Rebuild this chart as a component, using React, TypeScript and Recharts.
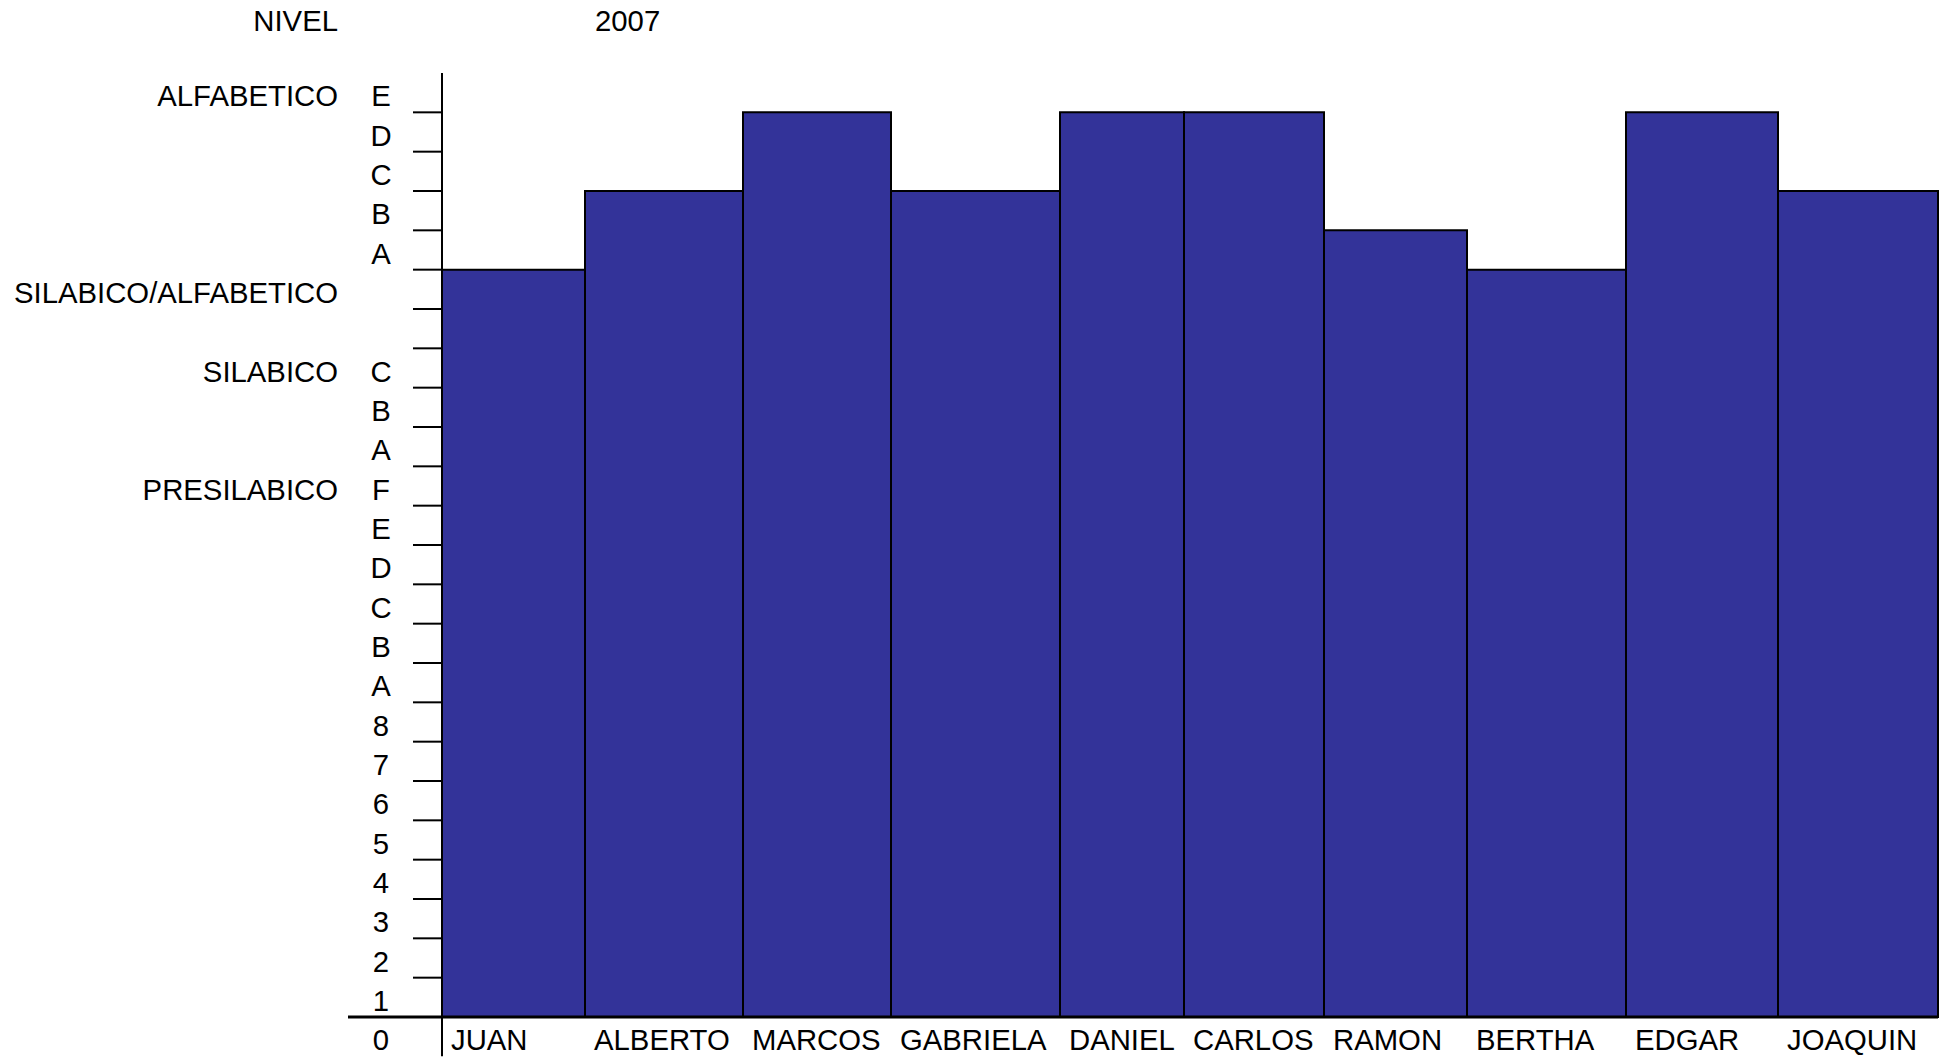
import React from 'react';
import { ComposedChart, XAxis, YAxis, ReferenceArea, ReferenceLine } from 'recharts';

// alumnos y nivel alcanzado (escala 0..24)
const nombres = ['JUAN', 'ALBERTO', 'MARCOS', 'GABRIELA', 'DANIEL', 'CARLOS', 'RAMON', 'BERTHA', 'EDGAR', 'JOAQUIN'];
const niveles = [19, 21, 23, 21, 23, 23, 20, 19, 23, 21];
const anchos = [143, 158, 148, 169, 124, 140, 143, 159, 152, 160];

// etiquetas del eje vertical, una por cada escalon (empezando en -0.5)
const letrasNivel = ['0', '1', '2', '3', '4', '5', '6', '7', '8', 'A', 'B', 'C', 'D', 'E', 'F', 'A', 'B', 'C', '', '', 'A', 'B', 'C', 'D', 'E'];
const etapas = ['PRESILABICO', 'SILABICO', 'SILABICO/ALFABETICO', 'ALFABETICO'];
const etapaPos = [13.5, 16.5, 18.5, 23.5];
const marcas = Array.from({ length: 23 }, (_, i) => i + 1);

const FONT = '"Liberation Sans", Arial, sans-serif';
const FS = 29.3;
const FILL = '#333399';

const inicios: number[] = [];
anchos.reduce((acc, w) => { inicios.push(acc); return acc + w; }, 0);
const total = anchos.reduce((a, b) => a + b, 0);
const ticksY = letrasNivel.map((_, i) => i - 0.5);
const datos = nombres.map((n, i) => ({ nombre: n, x: inicios[i], nivel: niveles[i] }));

const YTick = (props: any) => {
  const { y, payload, index } = props;
  const etapaIdx = etapaPos.indexOf(payload.value);
  return (
    <g>
      <text x={381} y={y + 3} dy="0.36em" textAnchor="middle" fontSize={FS} fontFamily={FONT} fill="#000">
        {letrasNivel[index]}
      </text>
      {etapaIdx >= 0 && (
        <text x={338} y={y + 3} dy="0.36em" textAnchor="end" fontSize={FS} fontFamily={FONT} fill="#000">
          {etapas[etapaIdx]}
        </text>
      )}
    </g>
  );
};

const XTick = (props: any) => {
  const { x, index } = props;
  return (
    <text x={x + 9} y={1050} textAnchor="start" fontSize={FS} fontFamily={FONT} fill="#000">
      {nombres[index]}
    </text>
  );
};

export default function App() {
  return (
    <div style={{ position: 'absolute', left: 0, top: 0, width: 1948, height: 1061, background: '#fff', fontFamily: FONT }}>
      <div style={{ position: 'absolute', right: 1948 - 338, top: 4, fontSize: FS }}>NIVEL</div>
      <div style={{ position: 'absolute', left: 595, top: 4, fontSize: FS }}>2007</div>
      <ComposedChart width={1948} height={1061} data={datos} margin={{ top: 73, right: 10, bottom: 0, left: 0 }}>
        <XAxis
          type="number"
          dataKey="x"
          domain={[0, total]}
          ticks={inicios}
          interval={0}
          height={44}
          axisLine={false}
          tickLine={false}
          tickSize={0}
          tickMargin={0}
          tick={<XTick />}
        />
        <YAxis
          type="number"
          dataKey="nivel"
          domain={[0, 24]}
          ticks={ticksY}
          interval={0}
          width={442}
          axisLine={false}
          tickLine={false}
          tickSize={0}
          tickMargin={0}
          tick={<YTick />}
          allowDataOverflow
        />
        {datos.map((d, i) => (
          <ReferenceArea
            key={d.nombre}
            x1={d.x}
            x2={d.x + anchos[i]}
            y1={0}
            y2={d.nivel}
            fill={FILL}
            fillOpacity={1}
            stroke="#000"
            strokeWidth={2}
            ifOverflow="visible"
          />
        ))}
        {marcas.map((m) => (
          <ReferenceLine key={m} segment={[{ x: -29, y: m }, { x: 0, y: m }]} stroke="#000" strokeWidth={2} ifOverflow="visible" />
        ))}
        <ReferenceLine segment={[{ x: -94, y: 0 }, { x: total, y: 0 }]} stroke="#000" strokeWidth={3} ifOverflow="visible" />
        <ReferenceLine segment={[{ x: 0, y: -1 }, { x: 0, y: 24 }]} stroke="#000" strokeWidth={2} ifOverflow="visible" />
      </ComposedChart>
    </div>
  );
}
